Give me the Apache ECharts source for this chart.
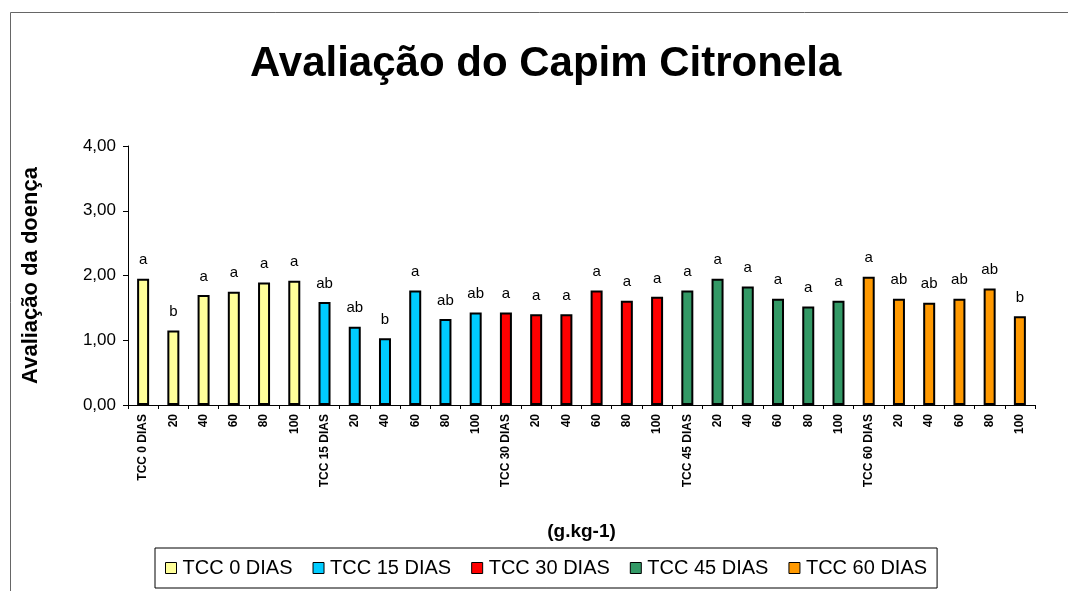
<!DOCTYPE html>
<html>
<head>
<meta charset="utf-8">
<script src="https://cdn.jsdelivr.net/npm/echarts@6/dist/echarts.min.js"></script>
<style>
  html, body { margin: 0; padding: 0; background: #fff; }
  #chart { width: 1068px; height: 591px; }
</style>
</head>
<body>
<div id="chart"></div>
<script>
const categories = [
  'TCC 0 DIAS', '20', '40', '60', '80', '100',
  'TCC 15 DIAS', '20', '40', '60', '80', '100',
  'TCC 30 DIAS', '20', '40', '60', '80', '100',
  'TCC 45 DIAS', '20', '40', '60', '80', '100',
  'TCC 60 DIAS', '20', '40', '60', '80', '100'
];
const groupNames = ['TCC 0 DIAS', 'TCC 15 DIAS', 'TCC 30 DIAS', 'TCC 45 DIAS', 'TCC 60 DIAS'];
const groupColors = ['#FFFF99', '#00CCFF', '#FF0000', '#339966', '#FF9900'];

const tcc0 = [1.95, 1.15, 1.70, 1.75, 1.89, 1.92];
const tcc15 = [1.59, 1.21, 1.03, 1.77, 1.33, 1.43];
const tcc30 = [1.43, 1.40, 1.40, 1.77, 1.61, 1.67];
const tcc45 = [1.77, 1.95, 1.83, 1.64, 1.52, 1.61];
const tcc60 = [1.98, 1.64, 1.58, 1.64, 1.80, 1.37];

const letters0 = ['a', 'b', 'a', 'a', 'a', 'a'];
const letters15 = ['ab', 'ab', 'b', 'a', 'ab', 'ab'];
const letters30 = ['a', 'a', 'a', 'a', 'a', 'a'];
const letters45 = ['a', 'a', 'a', 'a', 'a', 'a'];
const letters60 = ['a', 'ab', 'ab', 'ab', 'ab', 'b'];

const yTicks = [0, 1, 2, 3, 4];

const groupValues = [tcc0, tcc15, tcc30, tcc45, tcc60];
const groupLetters = [letters0, letters15, letters30, letters45, letters60];

const FONT = 'Liberation Sans, Arial, sans-serif';

const series = groupNames.map((name, g) => {
  const start = g * 6;
  const data = categories.map((_, i) =>
    i >= start && i < start + 6 ? groupValues[g][i - start] : '-'
  );
  return {
    name,
    type: 'bar',
    data,
    barWidth: 12,
    barGap: '-100%',
    itemStyle: { color: groupColors[g], borderColor: '#000', borderWidth: 2 },
    label: {
      show: true,
      position: 'top',
      distance: 11,
      color: '#000',
      fontFamily: FONT,
      fontSize: 15,
      formatter: (p) => groupLetters[g][p.dataIndex - start]
    },
    emphasis: { disabled: true }
  };
});

const chart = echarts.init(document.getElementById('chart'));
chart.setOption({
  animation: false,
  backgroundColor: '#fff',
  title: {
    text: 'Avaliação do Capim Citronela',
    left: 245,
    top: 38,
    textStyle: { fontFamily: FONT, fontSize: 42, fontWeight: 'bold', color: '#000' }
  },
  graphic: [{
    type: 'rect',
    shape: { x: 10.5, y: 12.5, width: 1200, height: 700 },
    style: { fill: 'none', stroke: '#666', lineWidth: 1 },
    silent: true
  }],
  legend: {
    data: groupNames,
    left: 155,
    top: 548,
    orient: 'horizontal',
    icon: 'rect',
    itemWidth: 11,
    itemHeight: 11,
    itemGap: 20,
    padding: [10, 10],
    borderColor: '#000',
    borderWidth: 1,
    itemStyle: { borderColor: '#000', borderWidth: 1 },
    textStyle: { fontFamily: FONT, fontSize: 20, color: '#000', padding: [0, 0, 0, 1] }
  },
  grid: { left: 128, right: 33, top: 146, bottom: 186, containLabel: false },
  xAxis: {
    type: 'category',
    data: categories,
    name: '(g.kg-1)',
    nameLocation: 'middle',
    nameGap: 117,
    nameTextStyle: { fontFamily: FONT, fontSize: 19, fontWeight: 'bold', color: '#000' },
    axisLine: { lineStyle: { color: '#000', width: 1 } },
    axisTick: { show: true, length: 4, lineStyle: { color: '#000' } },
    axisLabel: {
      interval: 0,
      rotate: 90,
      margin: 9,
      fontFamily: FONT,
      fontSize: 12,
      fontWeight: 'bold',
      color: '#000'
    }
  },
  yAxis: {
    type: 'value',
    min: yTicks[0],
    max: yTicks[yTicks.length - 1],
    interval: 1,
    name: 'Avaliação da doença',
    nameLocation: 'middle',
    nameGap: 86,
    nameRotate: 90,
    nameTextStyle: { fontFamily: FONT, fontSize: 22, fontWeight: 'bold', color: '#000' },
    axisLine: { show: true, lineStyle: { color: '#000', width: 1 } },
    axisTick: { show: true, length: 5, lineStyle: { color: '#000' } },
    splitLine: { show: false },
    axisLabel: {
      margin: 12,
      fontFamily: FONT,
      fontSize: 17,
      color: '#000',
      formatter: (v) => v.toFixed(2).replace('.', ',')
    }
  },
  series
});
</script>
</body>
</html>
